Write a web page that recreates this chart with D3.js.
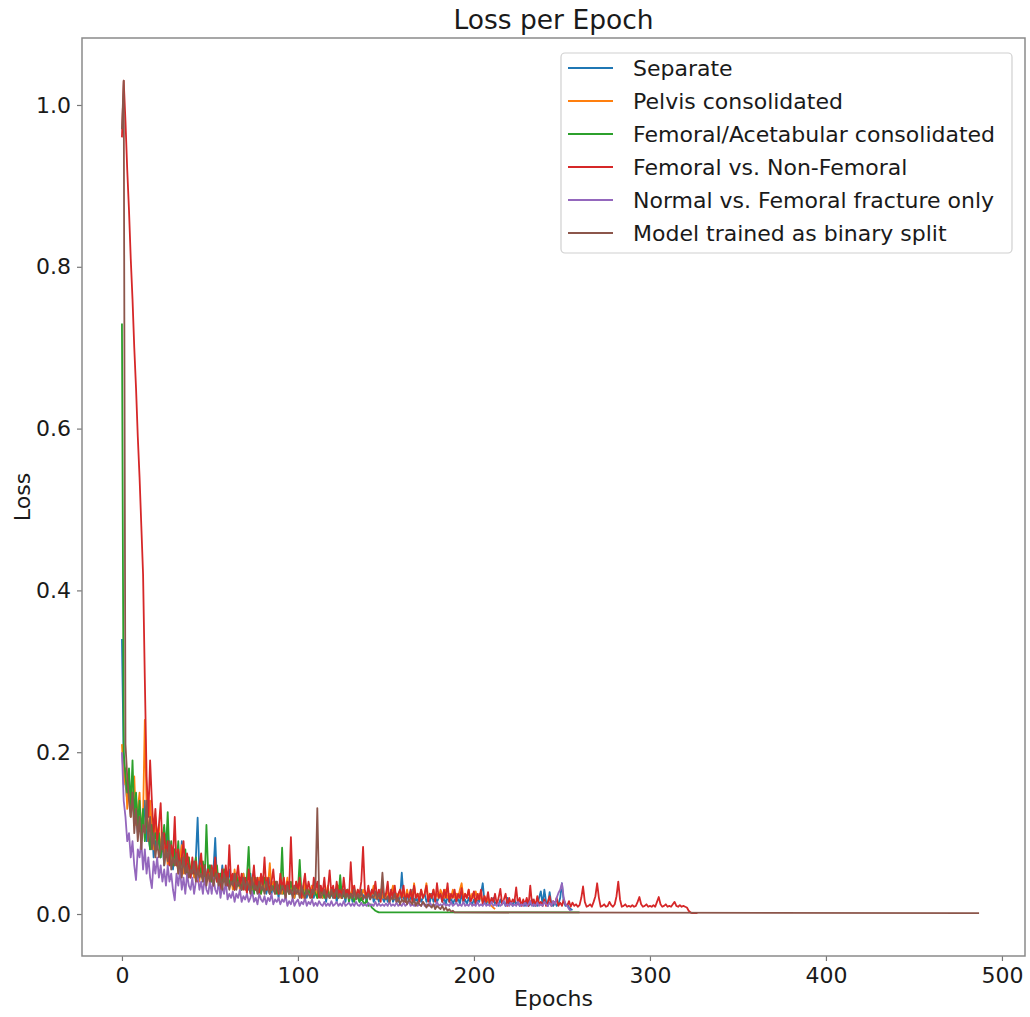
<!DOCTYPE html>
<html><head><meta charset="utf-8">
<script src="https://cdn.jsdelivr.net/npm/d3@7"></script>
<style>body{margin:0;background:#fff}svg{display:block;font-family:"DejaVu Sans",sans-serif}</style>
</head><body><svg id="c" width="1030" height="1017"></svg>
<script>
// ---------------- data ----------------
const seriesNames = ["Separate","Pelvis consolidated","Femoral/Acetabular consolidated","Femoral vs. Non-Femoral","Normal vs. Femoral fracture only","Model trained as binary split"];
const seriesColors = ["#1f77b4","#ff7f0e","#2ca02c","#d62728","#9467bd","#8c564b"];
const xTicks = [0,100,200,300,400,500];
const yTicks = [0,0.2,0.4,0.6,0.8,1.0];

const separate = [
.34,.19,.16,.14,.17,.12,.15,.11,.13,.10,
.12,.09,.11,.14,.09,.10,.08,.11,.07,.09,
.08,.10,.07,.09,.06,.08,.10,.06,.075,.055,
.08,.06,.07,.05,.09,.06,.075,.05,.065,.045,
.06,.05,.07,.119,.05,.065,.04,.06,.05,.045,
.06,.04,.055,.094,.04,.05,.035,.06,.04,.05,
.035,.055,.04,.045,.03,.05,.035,.045,.03,.05,
.035,.04,.03,.05,.025,.045,.03,.04,.025,.045,
.03,.04,.025,.035,.045,.025,.04,.03,.035,.02,
.04,.025,.035,.02,.04,.03,.025,.035,.02,.03,
.025,.035,.02,.03,.04,.02,.03,.025,.035,.02,
.03,.02,.035,.025,.02,.03,.015,.03,.02,.025,
.02,.03,.015,.025,.035,.02,.025,.015,.03,.02,
.025,.015,.03,.02,.025,.015,.03,.02,.025,.015,
.025,.02,.03,.015,.02,.025,.015,.03,.02,.015,
.025,.015,.02,.03,.015,.02,.025,.015,.02,.051,
.02,.015,.025,.015,.02,.03,.015,.02,.015,.025,
.015,.02,.025,.015,.02,.015,.025,.015,.02,.015,
.02,.025,.015,.02,.012,.022,.015,.02,.012,.018,
.015,.02,.012,.025,.015,.018,.012,.02,.015,.012,
.018,.012,.02,.015,.025,.038,.015,.012,.018,.012,
.015,.02,.012,.015,.01,.018,.012,.015,.01,.02,
.012,.015,.01,.018,.012,.015,.01,.012,.016,.01,
.015,.01,.012,.018,.01,.014,.01,.02,.028,.012,
.03,.015,.01,.027,.012,.01,.015,.01,.012,.02,
.038,.015,.01,.012,.008,.006,.005];

const pelvis = [
.21,.16,.18,.13,.16,.12,.14,.17,.11,.13,
.15,.10,.12,.24,.13,.09,.14,.11,.08,.12,
.09,.11,.08,.10,.07,.09,.06,.085,.065,.08,
.06,.075,.05,.07,.085,.05,.065,.045,.07,.05,
.06,.045,.065,.05,.04,.06,.045,.055,.04,.06,
.045,.05,.035,.06,.04,.05,.035,.045,.055,.035,
.05,.035,.045,.03,.055,.035,.045,.03,.04,.05,
.03,.045,.035,.04,.03,.05,.035,.03,.045,.025,
.04,.03,.045,.035,.063,.03,.04,.025,.035,.03,
.04,.025,.035,.03,.045,.025,.03,.035,.02,.04,
.025,.035,.03,.02,.04,.025,.03,.02,.035,.025,
.03,.02,.035,.025,.02,.03,.025,.035,.02,.03,
.025,.02,.03,.035,.02,.025,.03,.02,.025,.03,
.02,.035,.025,.02,.03,.025,.02,.03,.025,.02,
.03,.02,.025,.035,.02,.025,.02,.03,.02,.025,
.02,.03,.02,.025,.035,.02,.025,.02,.03,.02,
.025,.02,.03,.02,.025,.02,.038,.02,.025,.02,
.03,.02,.025,.038,.02,.025,.02,.03,.02,.025,
.02,.03,.025,.02,.03,.02,.025,.02,.03,.02,
.025,.02,.03,.038,.02,.025,.02,.03,.018,.025,
.02,.028,.018,.025,.02,.015,.022,.015,.02,.012,
.01,.008,.006];

const femAcetabular = [
.73,.20,.17,.15,.18,.13,.19,.12,.15,.11,
.14,.10,.13,.09,.12,.10,.08,.11,.09,.10,
.08,.10,.07,.09,.11,.08,.126,.07,.09,.06,
.08,.06,.09,.05,.07,.06,.08,.05,.07,.05,
.065,.05,.07,.045,.06,.05,.065,.04,.11,.05,
.06,.04,.055,.045,.06,.035,.05,.04,.055,.035,
.05,.035,.045,.04,.03,.05,.035,.045,.03,.04,
.035,.045,.083,.03,.04,.025,.045,.03,.04,.025,
.035,.045,.03,.04,.025,.035,.03,.04,.025,.035,
.03,.082,.025,.035,.03,.025,.04,.03,.025,.035,
.03,.067,.025,.03,.02,.035,.025,.03,.02,.03,
.025,.02,.035,.025,.03,.02,.025,.03,.02,.025,
.03,.02,.025,.02,.048,.02,.025,.02,.03,.015,
.025,.02,.015,.025,.02,.015,.02,.015,.012,.018,
.01,.012,.008,.006,.004,.003,.002,.002,.002,.002];

const femNonFem = [
.96,1.03,.98,.92,.87,.81,.76,.70,.65,.59,
.54,.48,.42,.29,.17,.12,.19,.14,.10,.13,
.09,.11,.137,.08,.10,.07,.09,.06,.085,.07,
.12,.06,.08,.055,.07,.09,.05,.075,.06,.045,
.07,.05,.065,.04,.06,.075,.045,.06,.04,.055,
.035,.06,.045,.07,.04,.05,.03,.055,.04,.06,
.035,.085,.04,.05,.03,.045,.06,.035,.05,.03,
.045,.025,.055,.035,.04,.06,.03,.045,.025,.05,
.035,.07,.03,.045,.025,.04,.055,.03,.04,.025,
.05,.03,.045,.025,.04,.03,.095,.035,.025,.04,
.03,.045,.02,.035,.05,.025,.04,.03,.02,.045,
.03,.04,.02,.035,.025,.045,.02,.03,.054,.025,
.035,.02,.04,.025,.03,.02,.045,.025,.03,.02,
.064,.025,.035,.02,.03,.025,.04,.083,.03,.02,
.035,.02,.03,.025,.04,.02,.03,.015,.035,.02,
.025,.04,.015,.03,.02,.035,.015,.025,.03,.02,
.035,.015,.025,.02,.03,.015,.035,.02,.025,.015,
.03,.02,.025,.035,.015,.025,.02,.03,.015,.038,
.02,.025,.015,.03,.02,.038,.015,.025,.02,.03,
.015,.025,.02,.032,.015,.025,.02,.03,.015,.02,
.028,.012,.025,.018,.03,.012,.022,.015,.027,.012,
.02,.015,.025,.012,.02,.031,.012,.018,.025,.01,
.02,.012,.018,.015,.033,.012,.02,.01,.018,.012,
.02,.01,.035,.012,.018,.01,.022,.012,.015,.01,
.018,.01,.015,.022,.01,.016,.012,.02,.01,.014,
.01,.018,.012,.01,.016,.009,.014,.01,.012,.009,
.011,.02,.034,.015,.009,.01,.012,.009,.015,.022,
.038,.02,.009,.01,.012,.009,.01,.015,.011,.009,
.012,.022,.04,.018,.009,.01,.012,.009,.01,.009,
.011,.009,.01,.015,.021,.012,.009,.01,.012,.009,
.01,.009,.011,.009,.015,.021,.012,.009,.01,.012,
.009,.01,.009,.012,.015,.01,.009,.011,.009,.01,
.009,.008,.004,.002,.001,.001,.001,.001];

const normalFemoral = [
.20,.14,.12,.09,.10,.07,.09,.06,.042,.08,
.07,.09,.055,.08,.05,.07,.045,.032,.065,.05,
.07,.045,.06,.04,.055,.035,.06,.04,.05,.03,
.017,.05,.035,.055,.03,.045,.025,.05,.035,.03,
.045,.025,.04,.05,.03,.04,.025,.045,.03,.025,
.04,.025,.045,.03,.025,.04,.02,.035,.025,.04,
.018,.025,.02,.028,.015,.025,.02,.03,.015,.022,
.018,.025,.015,.02,.028,.015,.02,.012,.025,.018,
.015,.022,.012,.02,.016,.025,.012,.018,.015,.02,
.012,.018,.015,.022,.01,.016,.012,.02,.01,.015,
.018,.01,.015,.012,.02,.01,.015,.012,.018,.01,
.014,.01,.016,.012,.01,.015,.01,.013,.01,.016,
.01,.012,.015,.01,.013,.01,.016,.01,.012,.014,
.01,.013,.01,.015,.011,.01,.014,.01,.012,.01,
.014,.01,.012,.01,.015,.01,.013,.01,.012,.01,
.013,.01,.015,.01,.012,.01,.014,.01,.012,.01,
.014,.01,.012,.016,.01,.012,.01,.014,.01,.012,
.01,.015,.01,.012,.01,.014,.01,.012,.01,.015,
.01,.012,.01,.014,.01,.012,.01,.015,.01,.012,
.014,.01,.012,.01,.015,.01,.012,.01,.014,.01,
.012,.01,.015,.01,.012,.01,.014,.01,.012,.01,
.015,.01,.012,.01,.014,.01,.012,.016,.01,.012,
.01,.014,.01,.012,.01,.015,.01,.012,.01,.014,
.01,.012,.016,.01,.012,.01,.014,.01,.012,.01,
.015,.012,.01,.014,.01,.016,.012,.02,.026,.03,
.038,.02,.012,.01,.006,.004];

const binarySplit = [
.97,1.03,.21,.17,.14,.12,.15,.10,.13,.09,
.12,.08,.11,.10,.14,.09,.12,.08,.10,.07,
.09,.07,.08,.10,.06,.08,.065,.09,.055,.07,
.06,.075,.05,.065,.045,.07,.05,.06,.045,.055,
.05,.065,.04,.055,.045,.05,.04,.06,.035,.05,
.04,.055,.035,.045,.05,.035,.045,.03,.05,.035,
.045,.03,.04,.035,.05,.03,.04,.035,.03,.045,
.03,.04,.035,.025,.045,.03,.035,.025,.04,.03,
.035,.025,.04,.03,.025,.035,.03,.025,.04,.03,
.025,.035,.03,.02,.035,.025,.03,.02,.035,.025,
.03,.02,.035,.025,.02,.03,.025,.02,.03,.025,
.04,.131,.03,.02,.025,.03,.02,.025,.02,.03,
.02,.025,.03,.02,.025,.02,.03,.02,.025,.02,
.025,.02,.03,.018,.025,.02,.028,.018,.022,.02,
.025,.018,.022,.02,.028,.018,.025,.02,.051,.02,
.018,.022,.015,.02,.018,.025,.015,.02,.012,.018,
.015,.02,.012,.018,.015,.012,.018,.01,.015,.012,
.01,.015,.012,.008,.012,.01,.008,.012,.006,.01,
.008,.006,.01,.005,.008,.004,.006,.003,.004,.002,
.002];

// flat continuation at the end of a run: [epoch, value] or null
const tailPoints = [null, null, [260, .002], null, null, [487, .001]];

const allSeries = [separate, pelvis, femAcetabular, femNonFem, normalFemoral, binarySplit];

// ---------------- chart ----------------
const svg = d3.select("#c");
const L = 82, R = 1025, T = 38, B = 956;
const x = d3.scaleLinear().domain([-22.7, 513.1]).range([L, R]);
const y = d3.scaleLinear().domain([-0.0519, 1.0828]).range([B, T]);

const plot = svg.append("g");
plot.append("clipPath").attr("id","clip").append("rect")
  .attr("x",L).attr("y",T).attr("width",R-L).attr("height",B-T);

const line = d3.line().x(d=>x(d[0])).y(d=>y(d[1]));
const g = plot.append("g").attr("clip-path","url(#clip)");
allSeries.forEach((vals,i)=>{
  const pts = vals.map((v,k)=>[k,v]);
  if (tailPoints[i]) pts.push(tailPoints[i]);
  g.append("path").datum(pts).attr("d",line)
    .attr("fill","none").attr("stroke",seriesColors[i])
    .attr("stroke-width",1.8).attr("stroke-linejoin","round");
});

// axes
const tickColor = "#777";
const xa = svg.append("g").attr("transform",`translate(0,${B})`)
  .call(d3.axisBottom(x).tickValues(xTicks).tickSize(5).tickPadding(6).tickFormat(d3.format("d")));
const ya = svg.append("g").attr("transform",`translate(${L},0)`)
  .call(d3.axisLeft(y).tickValues(yTicks).tickSize(5).tickPadding(6).tickFormat(d3.format(".1f")));
[xa,ya].forEach(a=>{
  a.select(".domain").remove();
  a.selectAll(".tick line").attr("stroke",tickColor).attr("stroke-width",1.2);
  a.selectAll(".tick text").attr("fill","#1a1a1a").style("font-size","22px")
   .style("font-family",'"DejaVu Sans",sans-serif');
});

// frame
svg.append("rect").attr("x",L).attr("y",T).attr("width",R-L).attr("height",B-T)
  .attr("fill","none").attr("stroke","#8a8a8a").attr("stroke-width",1.5);

// title and labels
svg.append("text").attr("x",(L+R)/2).attr("y",29).attr("text-anchor","middle")
  .style("font-size","26.5px").attr("fill","#1a1a1a").text("Loss per Epoch");
svg.append("text").attr("x",(L+R)/2).attr("y",1006).attr("text-anchor","middle")
  .style("font-size","22px").attr("fill","#1a1a1a").text("Epochs");
svg.append("text").attr("transform",`translate(30,${(T+B)/2}) rotate(-90)`).attr("text-anchor","middle")
  .style("font-size","22px").attr("fill","#1a1a1a").text("Loss");

// legend
const lg = svg.append("g");
lg.append("rect").attr("x",561).attr("y",53).attr("width",451).attr("height",200).attr("rx",4)
  .attr("fill","#fff").attr("fill-opacity",0.85).attr("stroke","#d0d0d0").attr("stroke-width",1.2);
seriesNames.forEach((n,i)=>{
  const yy = 68 + i*33;
  lg.append("line").attr("x1",568).attr("x2",613).attr("y1",yy).attr("y2",yy)
    .attr("stroke",seriesColors[i]).attr("stroke-width",1.8);
  lg.append("text").attr("x",633).attr("y",yy).attr("dy","0.35em")
    .style("font-size","22px").attr("fill","#1a1a1a").text(n);
});
</script></body></html>
